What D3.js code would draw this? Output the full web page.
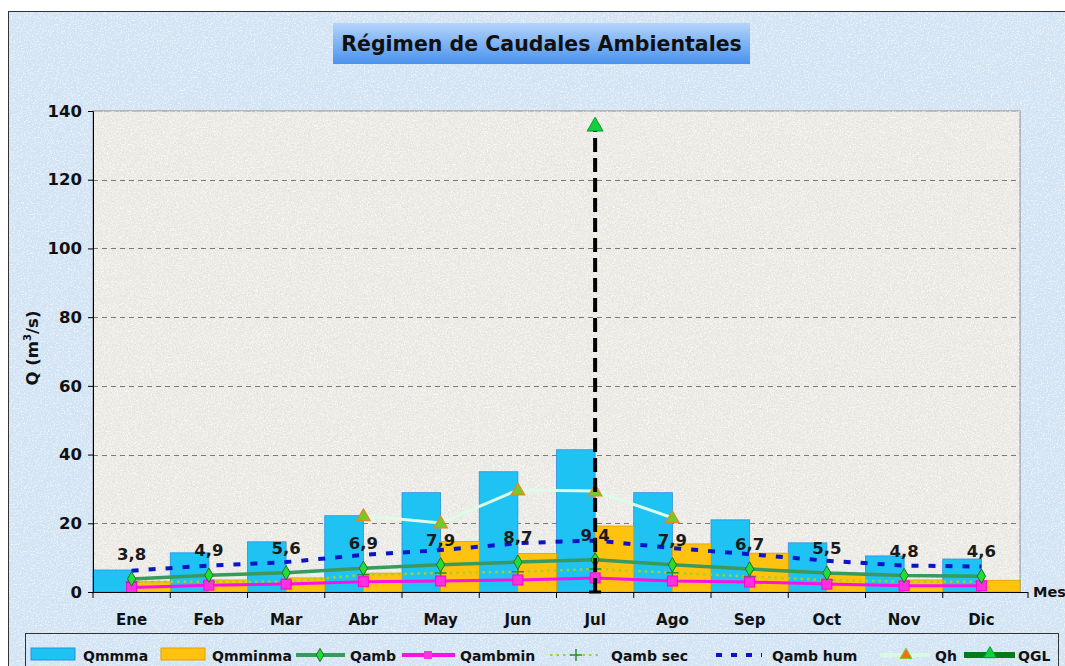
<!DOCTYPE html>
<html>
<head>
<meta charset="utf-8">
<script src="https://cdn.jsdelivr.net/npm/d3@7"></script>
<style>
  body { margin: 0; background: #fff; }
  svg { display: block; font-family: "DejaVu Sans", Verdana, sans-serif; }
</style>
</head>
<body>
<svg width="1065" height="666"></svg>
<script>
// months and series (m3/s)
var months = ["Ene","Feb","Mar","Abr","May","Jun","Jul","Ago","Sep","Oct","Nov","Dic"];
var qmmma   = [6.4, 11.4, 14.6, 22.2, 28.9, 35.0, 41.4, 28.9, 21.0, 14.3, 10.5, 9.6];
var qmminma = [3.0, 3.5, 4.1, 5.5, 14.7, 11.2, 19.2, 14.0, 11.3, 5.5, 3.5, 3.4];
var qamb    = [3.8, 4.9, 5.6, 6.9, 7.9, 8.7, 9.4, 7.9, 6.7, 5.5, 4.8, 4.6];
var qambmin = [1.3, 2.0, 2.3, 3.0, 3.2, 3.5, 4.1, 3.2, 2.9, 2.3, 1.8, 1.8];
var qambSec = [3.0, 3.0, 3.0, 5.0, 5.5, 5.9, 6.7, 5.6, 4.5, 3.5, 3.0, 3.0];
var qambHum = [6.2, 7.7, 8.7, 10.8, 12.2, 14.2, 15.0, 12.8, 11.0, 9.1, 7.7, 7.4];
var qh      = [null, null, null, 22.2, 20.1, 29.7, 29.4, 21.6, null, null, null, null];
var qgl     = [null, null, null, null, null, null, 135.5, null, null, null, null, null];
var yTicks  = [0, 20, 40, 60, 80, 100, 120, 140];

var svg = d3.select("svg");
var defs = svg.append("defs");

// grainy texture like the excel fill: light and dark specks
function noise_filter(id, seed, rgb, dark) {
  var f = defs.append("filter").attr("id", id).attr("x", 0).attr("y", 0).attr("width", 1).attr("height", 1);
  f.append("feTurbulence").attr("type", "fractalNoise").attr("baseFrequency", 0.7)
    .attr("numOctaves", 3).attr("seed", seed).attr("result", "t");
  var a = dark ? "-6 0 0 0 2.8" : "6 0 0 0 -3.1";
  f.append("feColorMatrix").attr("in", "t").attr("type", "matrix")
    .attr("values", "0 0 0 0 " + rgb[0] + "  0 0 0 0 " + rgb[1] + "  0 0 0 0 " + rgb[2] + "  " + a);
}
noise_filter("outerLight", 2, [1, 1, 1], false);
noise_filter("outerDark", 7, [0.62, 0.74, 0.86], true);
noise_filter("plotLight", 5, [1, 1, 1], false);
noise_filter("plotDark", 9, [0.72, 0.71, 0.68], true);

var tg = defs.append("linearGradient").attr("id", "titleGrad").attr("x1", 0).attr("y1", 0).attr("x2", 0).attr("y2", 1);
tg.append("stop").attr("offset", "0%").attr("stop-color", "#b4d4fa");
tg.append("stop").attr("offset", "100%").attr("stop-color", "#4a92ee");

// outer chart area
svg.append("rect").attr("x", 8.5).attr("y", 11.5).attr("width", 1100).attr("height", 700)
  .attr("fill", "#d3e4f4").attr("stroke", "#333").attr("stroke-width", 1);
svg.append("rect").attr("x", 9).attr("y", 12).attr("width", 1100).attr("height", 700)
  .attr("filter", "url(#outerLight)").attr("opacity", 0.55);
svg.append("rect").attr("x", 9).attr("y", 12).attr("width", 1100).attr("height", 700)
  .attr("filter", "url(#outerDark)").attr("opacity", 0.45);

// title
svg.append("rect").attr("x", 333).attr("y", 23).attr("width", 417).attr("height", 41).attr("fill", "url(#titleGrad)");
svg.append("text").attr("x", 541.5).attr("y", 51).attr("text-anchor", "middle")
  .attr("font-size", 20.5).attr("font-weight", "bold").attr("fill", "#111")
  .text("Régimen de Caudales Ambientales");

var pLeft = 93, pRight = 1020, pTop = 111, pBottom = 592;

var x = d3.scaleBand().domain(months).range([pLeft, pRight]).padding(0);
var bw = x.bandwidth();
var cx = function(i) { return x(months[i]) + bw / 2; };
var y = d3.scaleLinear().domain([0, 140]).range([pBottom, pTop]);

// plot area
svg.append("rect").attr("x", pLeft).attr("y", pTop).attr("width", pRight - pLeft).attr("height", pBottom - pTop)
  .attr("fill", "#ecebe6").attr("stroke", "#8a8a8a").attr("stroke-width", 1);
svg.append("rect").attr("x", pLeft).attr("y", pTop).attr("width", pRight - pLeft).attr("height", pBottom - pTop)
  .attr("filter", "url(#plotLight)").attr("opacity", 0.6);
svg.append("rect").attr("x", pLeft).attr("y", pTop).attr("width", pRight - pLeft).attr("height", pBottom - pTop)
  .attr("filter", "url(#plotDark)").attr("opacity", 0.5);

// gridlines
svg.append("g").selectAll("line").data(yTicks.filter(function(d) { return d > 0 && d < 140; }))
  .enter().append("line")
  .attr("x1", pLeft).attr("x2", pRight).attr("y1", function(d) { return Math.round(y(d)) + 0.5; }).attr("y2", function(d) { return Math.round(y(d)) + 0.5; })
  .attr("stroke", "#7a7a7a").attr("stroke-dasharray", "5,4");

// bars
var bars = svg.append("g");
bars.selectAll(".b1").data(qmmma).enter().append("rect")
  .attr("x", function(d, i) { return x(months[i]); }).attr("width", bw / 2)
  .attr("y", function(d) { return y(d); }).attr("height", function(d) { return pBottom - y(d); })
  .attr("fill", "#1ec3f4").attr("stroke", "#2a8fe0").attr("stroke-width", 0.8);
bars.selectAll(".b2").data(qmminma).enter().append("rect")
  .attr("x", function(d, i) { return x(months[i]) + bw / 2; }).attr("width", bw / 2)
  .attr("y", function(d) { return y(d); }).attr("height", function(d) { return pBottom - y(d); })
  .attr("fill", "#ffc20e").attr("stroke", "#e0a000").attr("stroke-width", 0.8);

function line_of(vals) {
  return d3.line().defined(function(d) { return d != null; })
    .x(function(d, i) { return cx(i); }).y(function(d) { return y(d); })(vals);
}

// Qamb hum
svg.append("path").attr("d", line_of(qambHum)).attr("fill", "none")
  .attr("stroke", "#0a14c8").attr("stroke-width", 4).attr("stroke-dasharray", "7,10");
// Qamb sec
svg.append("path").attr("d", line_of(qambSec)).attr("fill", "none")
  .attr("stroke", "#a8d020").attr("stroke-width", 2.5).attr("stroke-dasharray", "2.5,4");
svg.append("g").selectAll("path").data(qambSec).enter().append("path")
  .attr("d", function(d, i) { var px = cx(i), py = y(d); return "M" + (px - 6) + "," + py + "H" + (px + 6) + "M" + px + "," + (py - 6) + "V" + (py + 6); })
  .attr("stroke", "#2e8b2e").attr("stroke-width", 1.5);
// Qamb
svg.append("path").attr("d", line_of(qamb)).attr("fill", "none")
  .attr("stroke", "#3a9a5e").attr("stroke-width", 3.5);
// Qambmin
svg.append("path").attr("d", line_of(qambmin)).attr("fill", "none")
  .attr("stroke", "#ff10e8").attr("stroke-width", 3);
svg.append("g").selectAll("rect").data(qambmin).enter().append("rect")
  .attr("x", function(d, i) { return cx(i) - 5; }).attr("y", function(d) { return y(d) - 5; })
  .attr("width", 10).attr("height", 10).attr("fill", "#ff30e0").attr("stroke", "#ff00d0");
svg.append("g").selectAll("path").data(qamb).enter().append("path")
  .attr("d", d3.symbol(d3.symbolDiamond, 60))
  .attr("transform", function(d, i) { return "translate(" + cx(i) + "," + y(d) + ")"; })
  .attr("fill", "#22dd33").attr("stroke", "#1f6d2f").attr("stroke-width", 1);

// Qh
svg.append("path").attr("d", line_of(qh)).attr("fill", "none")
  .attr("stroke", "#dcfce6").attr("stroke-width", 3);
svg.append("g").selectAll("path").data(qh.map(function(d, i) { return [d, i]; }).filter(function(d) { return d[0] != null; }))
  .enter().append("path")
  .attr("d", d3.symbol(d3.symbolTriangle, 80))
  .attr("transform", function(d) { return "translate(" + cx(d[1]) + "," + (y(d[0]) + 1) + ")"; })
  .attr("fill", "#74c92c").attr("stroke", "#e08a1a").attr("stroke-width", 1.2);

// QGL with drop line
var qglPts = qgl.map(function(d, i) { return [d, i]; }).filter(function(d) { return d[0] != null; });
svg.append("g").selectAll("line").data(qglPts).enter().append("line")
  .attr("x1", function(d) { return cx(d[1]); }).attr("x2", function(d) { return cx(d[1]); })
  .attr("y1", pBottom).attr("y2", function(d) { return y(d[0]); })
  .attr("stroke", "#000").attr("stroke-width", 4).attr("stroke-dasharray", "14,6");
svg.append("g").selectAll("line").data(qglPts).enter().append("line")
  .attr("x1", function(d) { return cx(d[1]) - 6; }).attr("x2", function(d) { return cx(d[1]) + 6; })
  .attr("y1", pBottom).attr("y2", pBottom).attr("stroke", "#000").attr("stroke-width", 3);
svg.append("g").selectAll("path").data(qglPts).enter().append("path")
  .attr("d", d3.symbol(d3.symbolTriangle, 110))
  .attr("transform", function(d) { return "translate(" + cx(d[1]) + "," + y(d[0]) + ")"; })
  .attr("fill", "#10d040").attr("stroke", "#0a9a2a").attr("stroke-width", 1);

// data labels for Qamb
svg.append("g").selectAll("text").data(qamb).enter().append("text")
  .attr("x", function(d, i) { return cx(i); }).attr("y", function(d) { return y(d) - 19; })
  .attr("text-anchor", "middle").attr("font-size", 16.5).attr("font-weight", "bold").attr("fill", "#1a1a1a")
  .text(function(d) { return d.toFixed(1).replace(".", ","); });

// axes
var yAxis = d3.axisLeft(y).tickValues(yTicks).tickSize(5).tickPadding(6);
var gy = svg.append("g").attr("transform", "translate(" + pLeft + ",0)").call(yAxis);
gy.select(".domain").attr("stroke", "#000");
gy.selectAll("text").attr("font-size", 16.5).attr("font-weight", "bold").attr("fill", "#111")
  .attr("font-family", "DejaVu Sans, sans-serif");

svg.append("line").attr("x1", pLeft).attr("x2", pRight + 8).attr("y1", pBottom + 0.5).attr("y2", pBottom + 0.5).attr("stroke", "#000");
svg.append("g").selectAll("line").data(months.concat(["end"])).enter().append("line")
  .attr("x1", function(d) { return d == "end" ? pRight + 8 : x(d); }).attr("x2", function(d) { return d == "end" ? pRight + 8 : x(d); })
  .attr("y1", pBottom).attr("y2", pBottom + 6).attr("stroke", "#000");
svg.append("g").selectAll("text").data(months).enter().append("text")
  .attr("x", function(d) { return x(d) + bw / 2; }).attr("y", 625)
  .attr("text-anchor", "middle").attr("font-size", 15).attr("font-weight", "bold").attr("fill", "#111")
  .text(function(d) { return d; });
svg.append("text").attr("x", 1033).attr("y", 597).attr("font-size", 14.5).attr("font-weight", "bold").attr("fill", "#111").text("Mes");

var yt = svg.append("text").attr("transform", "translate(38,348) rotate(-90)").attr("text-anchor", "middle")
  .attr("font-size", 16.5).attr("font-weight", "bold").attr("fill", "#111");
yt.append("tspan").text("Q (m");
yt.append("tspan").attr("font-size", 10).attr("dy", -7).text("3");
yt.append("tspan").attr("dy", 7).text("/s)");

// legend
var lg = svg.append("g");
lg.append("rect").attr("x", 25.5).attr("y", 633.5).attr("width", 1033).attr("height", 60)
  .attr("fill", "none").attr("stroke", "#333");
var ly = 655, lty = 661;
function leg_text(xp, t) {
  lg.append("text").attr("x", xp).attr("y", lty).attr("font-size", 14).attr("font-weight", "bold").attr("fill", "#111").text(t);
}
lg.append("rect").attr("x", 31).attr("y", 648).attr("width", 44).attr("height", 12).attr("fill", "#1ec3f4").attr("stroke", "#2a8fe0");
leg_text(83, "Qmmma");
lg.append("rect").attr("x", 161).attr("y", 648).attr("width", 44).attr("height", 12).attr("fill", "#ffc20e").attr("stroke", "#e0a000");
leg_text(212, "Qmminma");
lg.append("line").attr("x1", 296).attr("x2", 345).attr("y1", ly).attr("y2", ly).attr("stroke", "#3a9a5e").attr("stroke-width", 4);
lg.append("path").attr("d", d3.symbol(d3.symbolDiamond, 50)).attr("transform", "translate(320," + ly + ")")
  .attr("fill", "#22dd33").attr("stroke", "#1f6d2f");
leg_text(350, "Qamb");
lg.append("line").attr("x1", 402).attr("x2", 455).attr("y1", ly).attr("y2", ly).attr("stroke", "#ff10e8").attr("stroke-width", 4);
lg.append("rect").attr("x", 424).attr("y", ly - 4).attr("width", 8).attr("height", 8).attr("fill", "#ff30e0");
leg_text(460, "Qambmin");
lg.append("line").attr("x1", 550).attr("x2", 602).attr("y1", ly).attr("y2", ly).attr("stroke", "#a8d020").attr("stroke-width", 2).attr("stroke-dasharray", "2.5,4");
lg.append("path").attr("d", "M570," + ly + "H582M576," + (ly - 6) + "V" + (ly + 6)).attr("stroke", "#2e8b2e").attr("stroke-width", 1.5);
leg_text(611, "Qamb sec");
lg.append("line").attr("x1", 716).attr("x2", 762).attr("y1", ly).attr("y2", ly).attr("stroke", "#0a14c8").attr("stroke-width", 4).attr("stroke-dasharray", "6,9");
leg_text(772, "Qamb hum");
lg.append("line").attr("x1", 880).attr("x2", 930).attr("y1", ly).attr("y2", ly).attr("stroke", "#d6fbe0").attr("stroke-width", 4);
lg.append("path").attr("d", d3.symbol(d3.symbolTriangle, 60)).attr("transform", "translate(906," + ly + ")")
  .attr("fill", "#ff6a1a").attr("stroke", "#74c92c");
leg_text(935, "Qh");
lg.append("line").attr("x1", 964).attr("x2", 1015).attr("y1", ly).attr("y2", ly).attr("stroke", "#087a1c").attr("stroke-width", 6);
lg.append("path").attr("d", d3.symbol(d3.symbolTriangle, 70)).attr("transform", "translate(990," + (ly - 1) + ")")
  .attr("fill", "#10d040").attr("stroke", "#0a9a2a");
leg_text(1018, "QGL");
</script>
</body>
</html>
